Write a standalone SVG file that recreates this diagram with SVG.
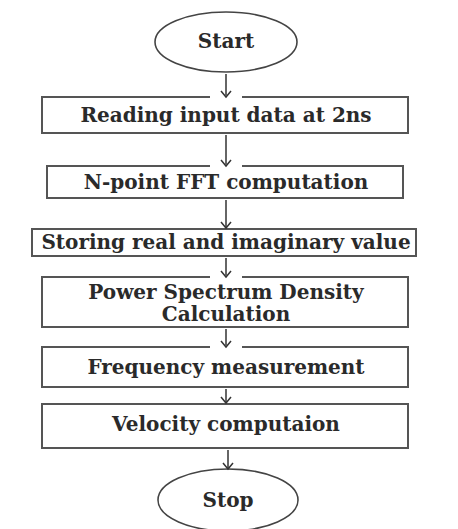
<svg xmlns="http://www.w3.org/2000/svg" width="458" height="529" viewBox="0 0 458 529">
<style>
.box{fill:#fff;stroke:#555;stroke-width:2}
.term{fill:#fff;stroke:#444;stroke-width:1.6}
.t{font-family:"DejaVu Serif","Liberation Serif",serif;font-weight:bold;font-size:20px;fill:#2a2a2a;text-anchor:middle}
.c{stroke:#333;stroke-width:1.5;fill:none}
</style>
<defs>
<marker id="ah" viewBox="0 0 12 12" refX="10" refY="6" markerWidth="12" markerHeight="12" markerUnits="userSpaceOnUse" orient="auto">
<path d="M4,1 L10,6 L4,11" fill="none" stroke="#333" stroke-width="1.5"/>
</marker>
<marker id="ahg" viewBox="0 -18 14 36" refX="10" refY="0" markerWidth="14" markerHeight="36" markerUnits="userSpaceOnUse" orient="auto">
<rect x="8.5" y="-16" width="4" height="32" fill="#fff"/>
<path d="M4,-5 L10,0 L4,5" fill="none" stroke="#333" stroke-width="1.5"/>
</marker>
</defs>
<rect width="458" height="529" fill="#fff"/>
<g id="start"><ellipse class="term" cx="226" cy="42" rx="71" ry="30"/><text class="t" x="226" y="48">Start</text></g>
<g id="read"><rect class="box" x="42" y="97" width="366" height="36"/><text class="t" x="226" y="122">Reading input data at 2ns</text></g>
<g id="fft"><rect class="box" x="47" y="166" width="356" height="32"/><text class="t" x="226" y="189">N-point FFT computation</text></g>
<g id="store"><rect class="box" x="32" y="229" width="384" height="27"/><text class="t" x="226" y="249">Storing real and imaginary value</text></g>
<g id="psd"><rect class="box" x="42" y="277" width="366" height="50"/><text class="t" x="226" y="299">Power Spectrum Density</text><text class="t" x="226" y="321">Calculation</text></g>
<g id="freq"><rect class="box" x="42" y="347" width="366" height="40"/><text class="t" x="226" y="374">Frequency measurement</text></g>
<g id="vel"><rect class="box" x="42" y="404" width="366" height="44"/><text class="t" x="226" y="431">Velocity computaion</text></g>
<g id="stop"><ellipse class="term" cx="228" cy="500" rx="70" ry="31"/><text class="t" x="228" y="507">Stop</text></g>
<g id="connectors">
<line class="c" x1="226" y1="74" x2="226" y2="97" marker-end="url(#ahg)"/>
<line class="c" x1="226" y1="135" x2="226" y2="166" marker-end="url(#ahg)"/>
<line class="c" x1="226" y1="200" x2="226" y2="228" marker-end="url(#ah)"/>
<line class="c" x1="226" y1="258" x2="226" y2="277" marker-end="url(#ahg)"/>
<line class="c" x1="226" y1="329" x2="226" y2="347" marker-end="url(#ahg)"/>
<line class="c" x1="226" y1="389" x2="226" y2="403" marker-end="url(#ah)"/>
<line class="c" x1="228" y1="450" x2="228" y2="469" marker-end="url(#ah)"/>
</g>
</svg>
